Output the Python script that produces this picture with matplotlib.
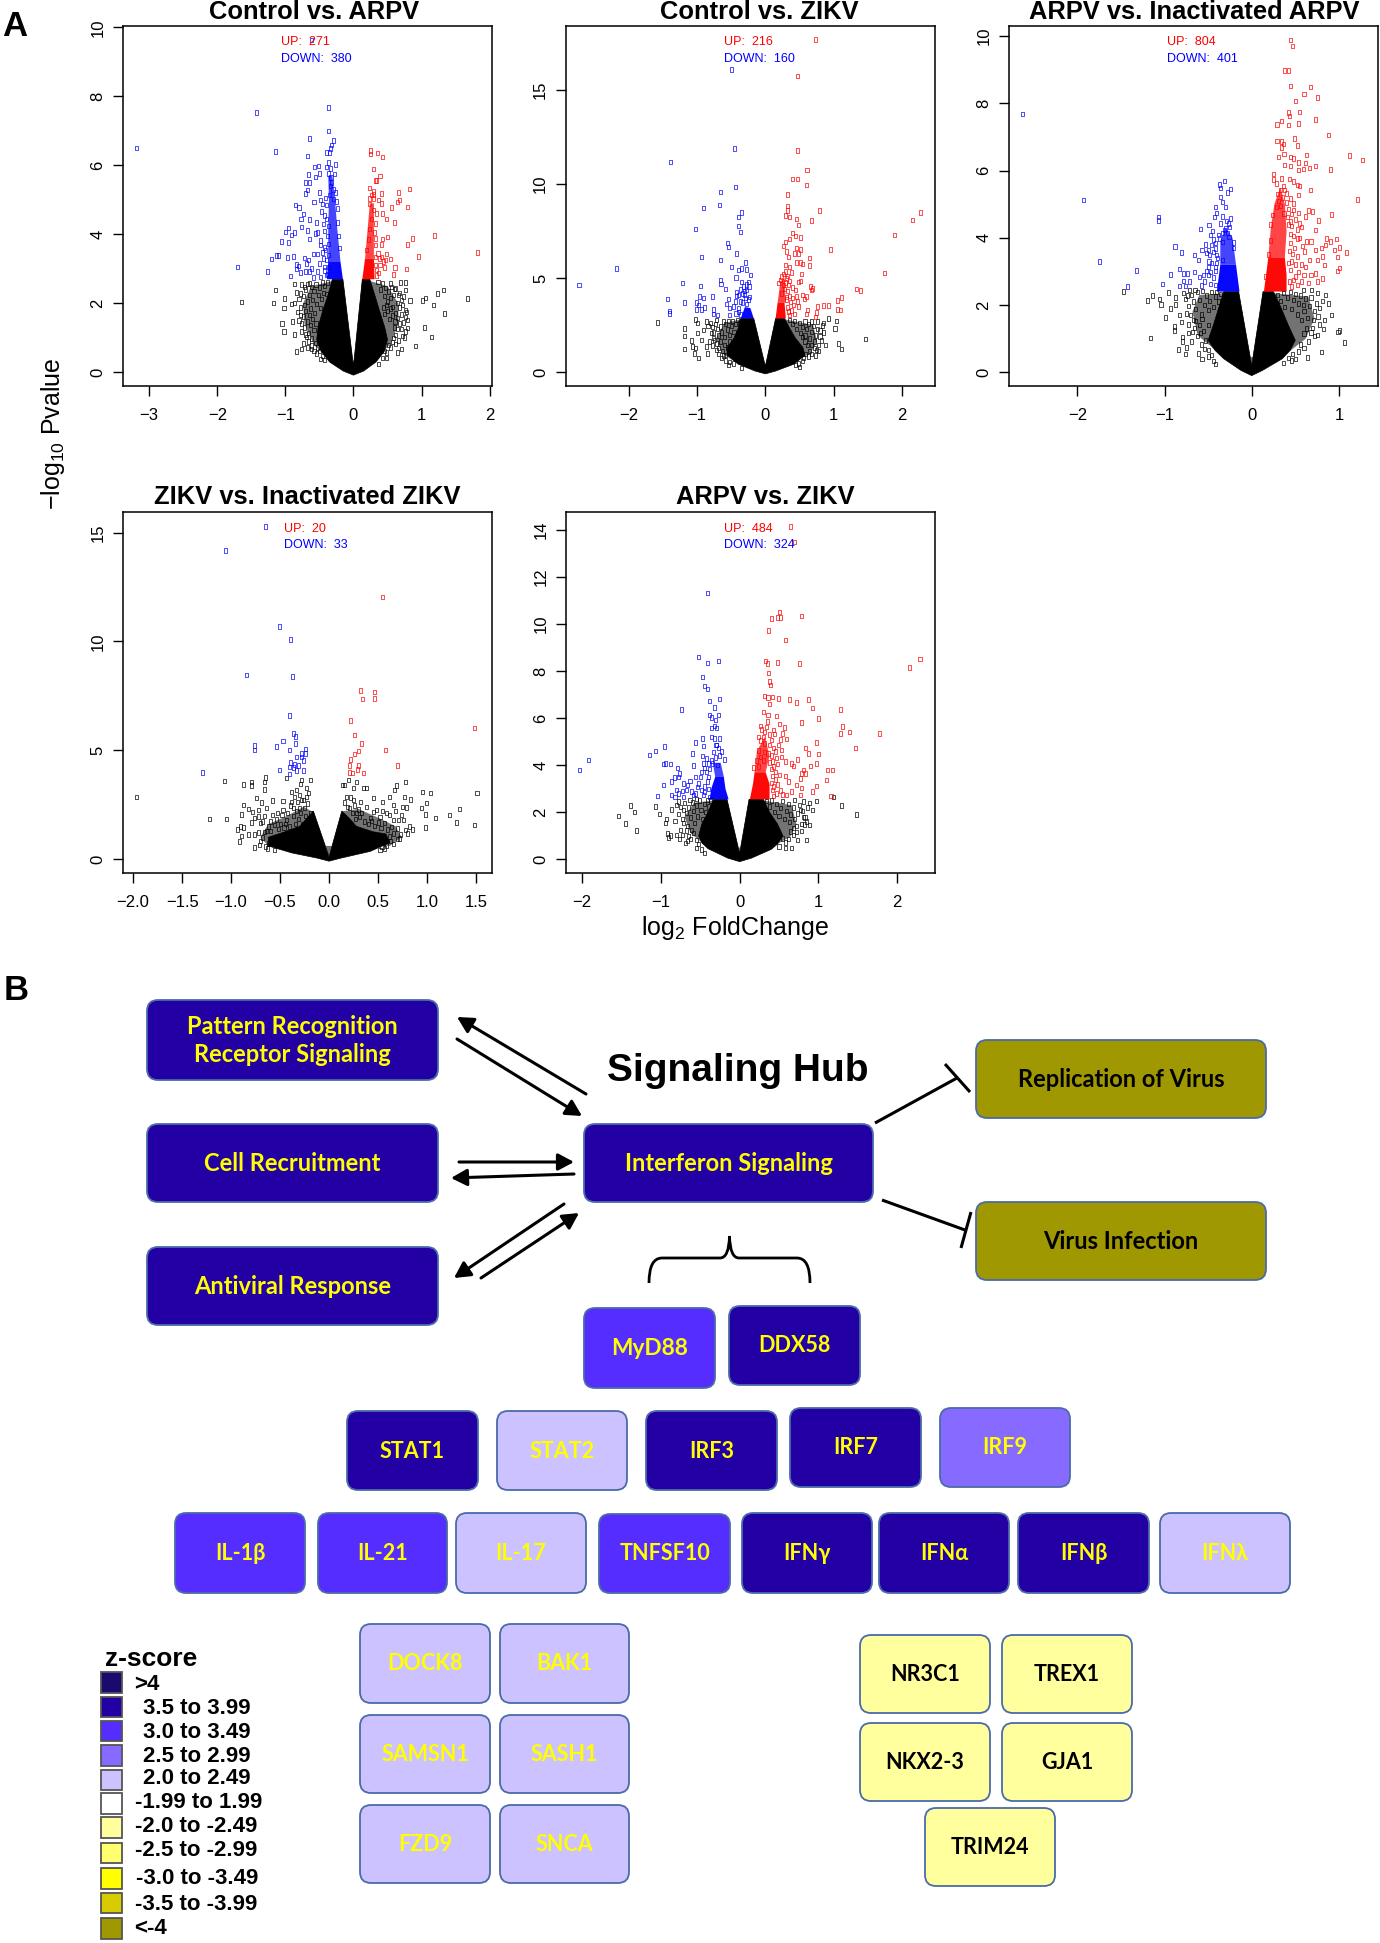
import matplotlib
matplotlib.use("Agg")
import matplotlib.pyplot as plt
from matplotlib.patches import FancyBboxPatch, Polygon, Rectangle, PathPatch, FancyArrowPatch
from matplotlib.path import Path

plt.rcParams['font.family'] = ['Liberation Sans', 'DejaVu Sans']
plt.rcParams['mathtext.fontset'] = 'custom'
plt.rcParams['mathtext.rm'] = 'Liberation Sans'
plt.rcParams['mathtext.default'] = 'regular'

W, H = 1380, 1943

# ---------------- volcano data: (log2 fold change, -log10 p) ----------------
p1_title = "Control vs. ARPV"; p1_up = "UP:  271"; p1_down = "DOWN:  380"
p1_blue = [(-0.62,9.63),(-3.19,6.51),(-1.43,7.53),(-0.37,7.68),(-0.37,6.99),(-0.65,6.78),(-1.15,6.40),(-0.68,6.27),(-0.29,6.72),(-0.32,6.59),(-0.34,6.49),(-0.40,6.37),(-0.35,6.37),(-0.37,6.08),(-0.57,5.96),(-0.51,5.99),(-0.27,6.03),(-0.39,5.96),(-0.34,5.91),(-0.66,5.74),(-0.56,5.67),(-0.50,5.77),(-0.28,5.75),(-0.37,5.77),(-0.71,5.50),(-0.64,5.51),(-0.32,5.50),(-0.34,5.40),(-0.68,5.29),(-0.70,5.19),(-0.50,5.22),(-0.26,5.22),(-0.41,5.05),(-0.48,5.0),(-0.58,4.94),(-0.29,5.02),(-0.85,4.86),(-0.80,4.78),(-0.46,4.88),(-0.73,4.59),(-0.47,4.66),(-0.77,4.44),(-0.64,4.43),(-0.54,4.34),(-0.76,4.22),(-0.96,4.19),(-1.0,4.07),(-0.87,4.06),(-0.91,3.98),(-0.67,4.11),(-0.56,4.03),(-0.53,4.05),(-1.06,3.79),(-0.96,3.77),(-0.65,3.86),(-0.48,3.82),(-0.49,3.69),(-1.20,3.29),(-1.13,3.39),(-1.10,3.39),(-0.97,3.33),(-0.88,3.36),(-0.59,3.44),(-0.53,3.44),(-0.72,3.31),(-0.66,3.26),(-1.70,3.06),(-1.26,2.92),(-0.84,3.13),(-0.81,3.09),(-0.83,3.0),(-0.69,3.16),(-0.78,2.90),(-0.71,2.92),(-0.65,2.92),(-0.62,3.01),(-0.93,2.80),(-0.59,2.75),(-0.53,2.92),(-0.50,3.16),(-0.43,3.06),(-0.48,2.77),
 (-0.38,2.85),(-0.42,2.95),(-0.36,3.05),(-0.40,3.25),(-0.36,3.40),(-0.41,3.55),(-0.37,3.72),(-0.43,3.62),(-0.38,3.95),(-0.42,4.10),(-0.37,4.25),(-0.44,4.30),(-0.39,4.45),(-0.42,4.55),(-0.24,4.75),(-0.25,4.95),(-0.30,5.30),(-0.35,5.15),(-0.23,4.35),(-0.22,3.95),(-0.21,3.60),(-0.39,4.85),(-0.33,5.65),(-0.44,3.30),(-0.46,3.48),(-0.40,2.82)]
p1_red = [(0.25,6.43),(0.25,6.33),(0.35,6.36),(0.42,6.25),(0.29,5.90),(0.39,5.69),(0.32,5.56),(0.34,5.56),(0.24,5.34),(0.30,5.24),(0.30,5.16),(0.41,5.19),(0.66,5.21),(0.82,5.31),(0.68,5.0),(0.65,4.94),(0.80,4.80),(0.56,4.78),(0.37,5.0),(0.24,5.04),(0.29,5.04),(0.41,4.9),(0.43,4.61),(0.34,4.61),(0.49,4.44),(0.60,4.34),(0.29,4.7),(0.23,4.88),(0.32,4.32),(0.50,3.92),(0.42,3.87),(1.19,3.97),(0.87,3.88),(0.79,3.71),(0.41,3.71),(0.33,3.69),(1.82,3.47),(0.96,3.36),(0.49,3.43),(0.55,3.29),(0.33,3.35),(0.38,3.30),(0.44,3.21),(0.61,3.04),(0.78,2.99),(0.45,3.04),(0.59,2.84),(0.34,2.97),(0.34,2.81),(0.32,3.11),(0.39,3.11),
 (0.19,3.55),(0.22,3.85),(0.24,4.15),(0.27,4.45),(0.31,4.05),(0.33,3.88),(0.36,3.45),(0.37,2.88),(0.41,3.35),(0.47,3.26),(0.26,5.15)]
p1_black = [(-1.64,2.04),(-1.15,2.38),(-0.87,2.57),(-1.01,2.14),(-1.18,2.01),(-1.02,1.86),(-1.05,1.42),(-0.90,1.47),(-1.02,1.18),(-0.87,1.10),(-0.83,0.61),(-0.76,0.67),(-0.73,0.84),(-0.68,0.72),(-0.61,0.67),(-0.91,1.98),(-0.86,2.02),(-0.78,2.29),(-0.72,2.48),(-0.64,2.58),(-0.78,1.66),(-0.76,1.42),(-0.76,1.18),(-0.69,1.03),(-0.48,0.39),(1.68,2.14),(1.32,2.39),(1.24,2.29),(1.06,2.16),(1.01,2.08),(1.18,1.95),(1.34,1.71),(1.04,1.30),(1.15,1.03),(0.91,0.76),(0.71,0.68),(0.64,0.58),(0.83,2.08),(0.77,2.60),(0.69,2.60),(0.77,2.39),(0.62,2.43),(0.79,1.52),(0.79,1.28),(0.75,1.01),(0.48,0.41),(0.37,0.24),(0.71,2.10),(0.66,2.24),(0.54,2.58),(0.76,1.81),(0.61,1.47),(0.59,0.99),
 (-0.83,2.32),(-0.80,2.12),(-0.76,2.55),(-0.74,2.22),(-0.72,1.95),(-0.70,2.40),(-0.68,2.05),(-0.67,2.56),(-0.65,2.25),(-0.63,1.85),(-0.62,2.48),(-0.60,2.10),(-0.58,2.36),(-0.57,1.72),(-0.55,2.55),(-0.54,1.98),(-0.52,2.24),(-0.50,2.46),(-0.49,1.86),(-0.47,2.12),(-0.45,2.60),(-0.44,2.30),(-0.42,2.50),(-0.40,2.28),(-0.38,2.60),(-0.82,1.75),(-0.80,1.50),(-0.78,1.88),(-0.74,1.62),(-0.72,1.30),(-0.71,1.78),(-0.68,1.48),(-0.66,1.15),(-0.65,1.66),(-0.63,1.38),(-0.61,0.98),(-0.60,1.55),(-0.58,1.22),(-0.56,0.85),(-0.55,1.42),(-0.53,0.72),(-0.70,1.10),(-0.66,0.90),(-0.62,0.78),(-0.58,0.62),(-0.54,0.55),(-0.50,0.62),(-0.46,0.48),(-0.42,0.36),
 (0.36,2.62),(0.40,2.40),(0.42,2.58),(0.45,2.22),(0.47,2.45),(0.50,2.05),(0.52,2.34),(0.54,2.15),(0.56,2.48),(0.57,1.90),(0.59,2.25),(0.60,2.42),(0.62,1.72),(0.64,2.02),(0.65,1.58),(0.67,1.88),(0.68,2.30),(0.70,1.68),(0.72,1.95),(0.73,1.45),(0.74,2.20),(0.76,1.60),(0.77,1.18),(0.78,1.75),(0.70,1.25),(0.67,1.42),(0.64,1.25),(0.62,1.08),(0.60,1.30),(0.58,1.65),(0.55,1.85),(0.53,1.55),(0.50,1.78),(0.48,1.95),(0.46,1.70),(0.44,1.88),(0.57,0.88),(0.54,0.72),(0.51,0.80),(0.48,0.58),(0.45,0.62),(0.42,0.42),(0.66,0.92),(0.62,0.82),(0.72,1.05)]
p1_core = [(-0.155,2.7),(0,0.18),(0.13,2.7),(0.24,2.7),(0.32,2.2),(0.38,1.8),(0.46,1.3),(0.5,0.95),(0.45,0.6),(0.33,0.3),(0.15,0.04),(0,-0.08),(-0.15,0.04),(-0.35,0.3),(-0.47,0.6),(-0.54,0.95),(-0.52,1.3),(-0.45,1.8),(-0.38,2.2),(-0.31,2.7)]
p1_haze = [(-0.31,2.65),(-0.62,2.5),(-0.74,2.0),(-0.72,1.4),(-0.58,0.8),(-0.35,0.35),(0.33,0.35),(0.55,0.85),(0.66,1.4),(0.66,2.0),(0.5,2.5),(0.24,2.65)]
p1_blue_mass = [(-0.155,2.7),(-0.19,3.2),(-0.37,3.2),(-0.39,2.7)]
p1_blue_top = [(-0.19,3.2),(-0.24,4.2),(-0.27,5.0),(-0.31,5.7),(-0.37,5.7),(-0.36,5.0),(-0.37,4.2),(-0.37,3.2)]
p1_red_mass = [(0.13,2.7),(0.17,3.3),(0.30,3.3),(0.31,2.7)]
p1_red_top = [(0.17,3.3),(0.21,4.2),(0.24,4.9),(0.30,4.9),(0.30,4.2),(0.30,3.3)]

p2_title = "Control vs. ZIKV"; p2_up = "UP:  216"; p2_down = "DOWN:  160"
p2_blue = [(-2.73,4.63),(-2.18,5.51),(-1.39,11.17),(-0.49,16.1),(-0.45,11.88),(-0.44,9.84),(-0.66,9.56),(-0.67,8.88),(-0.91,8.71),(-0.35,8.49),(-0.39,8.24),(-1.03,7.62),(-0.39,7.75),(-0.37,7.43),(-0.56,6.86),(-0.54,6.65),(-0.42,6.31),(-0.94,6.10),(-0.66,5.96),(-0.29,5.83),(-0.49,5.6),(-0.39,5.41),(-0.35,5.51),(-0.27,5.46),(-0.22,5.16),(-0.43,5.02),(-0.66,4.89),(-0.65,4.68),(-1.22,4.72),(-0.95,4.57),(-0.58,4.43),(-1.43,3.87),(-0.97,4.01),(-0.91,3.95),(-0.78,4.01),(-1.18,3.69),(-1.01,3.69),(-0.98,3.56),(-1.01,3.33),(-0.94,3.33),(-0.89,3.44),(-1.41,3.12),(-1.41,3.24),(-0.76,3.33),(-0.76,3.10),(-0.70,3.03),(-0.54,3.87),(-0.57,3.62),(-0.53,3.39),(-0.42,4.27),(-0.40,4.1),(-0.32,4.54),(-0.25,4.8),(-0.35,4.8),(-0.27,4.36),(-0.44,3.74),(-0.37,3.74),(-0.47,3.48),(-0.53,3.03),(-0.40,3.39),(-0.31,4.1),(-0.23,4.0),
 (-0.24,4.55),(-0.28,4.65),(-0.30,4.3),(-0.34,4.18),(-0.36,4.38),(-0.42,4.05),(-0.29,3.95),(-0.25,3.85),(-0.33,3.7),(-0.27,3.62),(-0.39,3.2),(-0.43,3.12),(-0.37,3.05)]
p2_red = [(0.73,17.68),(0.47,15.76),(0.47,11.79),(0.61,10.76),(0.40,10.28),(0.47,10.28),(0.60,9.93),(0.32,9.45),(0.32,8.83),(0.32,8.6),(0.79,8.6),(0.29,8.32),(0.35,8.26),(0.45,8.14),(0.67,8.05),(0.49,7.82),(2.27,8.49),(2.15,8.10),(1.89,7.30),(0.40,7.38),(0.44,7.23),(0.51,7.15),(0.36,7.06),(0.30,6.93),(0.26,6.70),(0.95,6.52),(0.45,6.61),(0.52,6.52),(0.31,6.40),(0.42,6.31),(0.48,6.31),(0.64,6.06),(0.34,6.13),(0.46,5.83),(0.52,5.83),(0.55,5.73),(0.65,5.66),(0.29,5.69),(0.36,5.6),(1.75,5.25),(0.30,5.34),(0.38,5.30),(0.53,5.2),(0.24,5.07),(0.31,4.98),(0.36,4.84),(0.48,4.80),(0.52,4.84),(0.19,4.72),(0.26,4.63),(0.40,4.50),(0.44,4.36),(0.66,4.54),(0.69,4.45),(0.67,4.36),(1.33,4.41),(1.39,4.34),(1.12,3.97),(1.06,3.81),(0.24,4.18),(0.40,3.95),(0.46,4.01),(0.54,4.1),(0.60,4.01),(0.57,3.88),(0.47,3.74),(0.48,3.48),(0.77,3.48),(0.85,3.53),(0.93,3.53),(1.05,3.33),(1.10,3.30),(0.62,3.30),(0.60,3.07),(0.75,3.16),(0.74,2.94),(0.43,3.09),(0.34,3.21),
 (0.27,5.2),(0.33,5.12),(0.22,4.88),(0.30,4.75),(0.34,4.62),(0.28,4.42),(0.32,4.30),(0.35,4.05),(0.31,3.85),(0.37,3.72),(0.33,3.42),(0.38,3.28),(0.41,3.55),(0.36,3.02),(0.31,3.98)]
p2_black = [(-1.58,2.64),(-1.19,2.32),(-1.19,1.90),(-1.19,1.22),(-1.08,1.68),(-1.07,1.35),(-1.02,1.29),(-1.04,0.99),(-0.98,0.73),(-0.86,1.35),(-0.85,0.99),(-0.94,1.70),(-1.0,2.06),(-1.02,2.80),(-0.99,2.59),(-0.86,2.68),(-0.91,2.23),(-0.79,2.06),(-0.71,2.77),(-0.74,1.70),(-0.62,2.68),(-0.72,1.17),(-0.64,0.73),(-0.54,0.37),(-0.35,0.20),(1.47,1.77),(1.07,1.52),(1.12,1.21),(0.88,1.42),(0.93,2.85),(1.04,2.71),(1.02,2.32),(0.85,2.62),(0.85,2.09),(0.76,2.68),(0.68,2.68),(0.58,2.68),(0.80,1.88),(0.75,1.17),(0.56,0.73),(0.50,0.28),
 (-0.84,2.45),(-0.81,2.6),(-0.78,2.38),(-0.76,2.1),(-0.73,2.55),(-0.70,2.28),(-0.68,1.95),(-0.66,2.42),(-0.64,2.1),(-0.60,1.85),(-0.58,2.55),(-0.56,2.25),(-0.54,2.7),(-0.52,1.98),(-0.50,2.44),(-0.48,2.72),(-0.46,2.12),(-0.44,2.55),(-0.41,2.78),(-0.38,2.62),(-0.82,1.62),(-0.78,1.4),(-0.76,1.82),(-0.72,1.52),(-0.69,1.28),(-0.66,1.62),(-0.63,1.12),(-0.60,1.42),(-0.59,0.9),(-0.56,1.3),(-0.52,1.62),(-0.68,0.95),(-0.62,0.88),(-0.58,0.62),(-0.52,0.52),(-0.47,0.45),
 (0.36,2.78),(0.40,2.55),(0.43,2.72),(0.46,2.3),(0.50,2.6),(0.52,2.08),(0.55,2.4),(0.58,1.95),(0.60,2.28),(0.63,2.55),(0.65,1.78),(0.68,2.12),(0.70,2.45),(0.72,1.62),(0.74,1.95),(0.76,2.3),(0.78,1.45),(0.80,2.2),(0.82,1.68),(0.83,2.48),(0.72,1.28),(0.68,1.42),(0.65,1.12),(0.62,1.45),(0.58,1.62),(0.54,1.85),(0.68,0.95),(0.63,0.82),(0.59,0.95),(0.55,0.58),(0.48,0.45),(0.44,0.38),(0.78,1.1),(0.74,0.88)]
p2_core = [(-0.17,2.85),(0,0.3),(0.15,2.85),(0.28,2.85),(0.36,2.3),(0.44,1.8),(0.55,1.3),(0.58,0.9),(0.42,0.42),(0.15,0.05),(0,-0.1),(-0.15,0.05),(-0.4,0.42),(-0.56,0.9),(-0.56,1.3),(-0.46,1.8),(-0.4,2.3),(-0.36,2.85)]
p2_haze = [(-0.36,2.8),(-0.6,2.6),(-0.72,1.8),(-0.64,1.0),(-0.4,0.45),(0.4,0.45),(0.66,1.0),(0.76,1.6),(0.7,2.5),(0.28,2.8)]
p2_blue_mass = [(-0.17,2.85),(-0.22,3.4),(-0.3,3.45),(-0.36,2.85)]
p2_blue_top = []
p2_red_mass = [(0.15,2.85),(0.18,3.7),(0.28,3.7),(0.30,2.85)]
p2_red_top = [(0.18,3.7),(0.22,4.8),(0.28,5.0),(0.30,3.7)]

p3_title = "ARPV vs. Inactivated ARPV"; p3_up = "UP:  804"; p3_down = "DOWN:  401"
p3_blue = [(-2.63,7.68),(-1.93,5.13),(-1.75,3.29),(-1.32,3.03),(-1.42,2.55),(-1.07,4.62),(-1.07,4.52),(-0.31,5.69),(-0.37,5.59),(-0.36,5.49),(-0.24,5.45),(-0.28,5.35),(-0.36,5.22),(-0.33,5.07),(-0.41,4.91),(-0.30,4.91),(-0.40,4.73),(-0.43,4.61),(-0.33,4.63),(-0.24,4.58),(-0.29,4.50),(-0.49,4.38),(-0.59,4.26),(-0.25,4.33),(-0.31,4.23),(-0.45,4.21),(-0.47,4.08),(-0.26,4.03),(-0.34,3.88),(-0.42,3.84),(-0.46,3.79),(-0.21,3.86),(-0.88,3.74),(-0.80,3.56),(-0.57,3.64),(-0.50,3.64),(-0.66,3.48),(-0.52,3.54),(-0.40,3.49),(-0.21,3.69),(-0.49,3.29),(-0.61,3.34),(-0.33,3.34),(-0.83,3.07),(-0.93,2.91),(-0.78,2.94),(-0.74,2.94),(-0.66,2.99),(-0.60,2.84),(-0.50,3.14),(-0.42,3.14),(-0.31,3.14),(-1.02,2.62),(-0.78,2.72),(-0.71,2.70),(-0.83,2.57),(-0.76,2.57),(-0.54,2.70),(-0.42,2.60),(-0.50,2.89),(-0.36,2.79),
 (-0.27,4.42),(-0.30,4.28),(-0.34,4.15),(-0.28,4.15),(-0.37,3.98),(-0.41,3.68),(-0.44,3.58),(-0.39,3.40),(-0.46,3.25),(-0.42,3.02),(-0.47,2.98),(-0.52,3.02),(-0.55,2.90),(-0.44,2.82),(-0.40,3.25),(-0.48,3.48),(-0.53,3.8),(-0.44,3.95),(-0.38,4.08),(-0.36,4.42),(-0.58,2.58),(-0.47,2.62)]
p3_red = [(0.44,9.89),(0.47,9.70),(0.38,8.98),(0.42,8.98),(0.45,8.52),(0.67,8.49),(0.60,8.28),(0.75,8.17),(0.50,8.07),(0.55,7.75),(0.42,7.73),(0.43,7.63),(0.73,7.52),(0.34,7.47),(0.29,7.37),(0.42,7.35),(0.54,7.40),(0.88,7.06),(0.49,6.95),(0.29,6.88),(0.34,6.87),(0.36,6.79),(0.34,6.69),(0.53,6.75),(1.12,6.45),(1.27,6.32),(0.63,6.47),(0.31,6.41),(0.37,6.49),(0.45,6.41),(0.48,6.36),(0.62,6.23),(0.54,6.24),(0.66,6.07),(0.73,6.14),(0.90,6.03),(0.59,6.04),(0.54,6.02),(0.38,6.16),(0.44,6.13),(0.25,5.90),(0.25,5.74),(0.34,5.77),(0.43,5.75),(0.48,5.67),(0.55,5.54),(0.52,5.57),(0.67,5.42),(0.54,5.27),(1.21,5.14),(0.44,5.17),(0.33,5.42),(0.40,5.32),(0.48,5.02),(0.65,4.81),(0.70,4.78),(0.54,4.73),(0.92,4.69),(0.62,4.63),(0.48,4.83),(0.77,4.52),(0.55,4.43),(0.44,4.48),(0.57,4.33),(0.73,4.23),(0.86,3.98),(0.97,3.96),(0.90,3.89),(0.52,3.98),(0.63,3.89),(0.68,3.89),(0.85,3.79),(0.80,3.69),(1.01,3.71),(0.95,3.64),(1.09,3.56),(0.73,3.64),(0.61,3.59),(0.98,3.42),(0.81,3.44),(0.75,3.34),(0.66,3.34),(0.52,3.44),(0.46,3.29),(0.84,3.19),(1.01,3.11),(0.98,3.02),(0.73,2.94),(0.62,3.14),(0.54,2.99),(0.81,2.79),(0.75,2.70),(0.65,2.65),(0.57,2.70),(0.52,2.60),(0.46,2.55),
 (0.28,5.62),(0.30,5.3),(0.36,5.55),(0.38,5.42),(0.31,5.1),(0.35,5.2),(0.40,5.05),(0.28,4.92),(0.24,4.68),(0.42,4.85),(0.46,4.7),(0.22,4.4),(0.42,4.4),(0.46,4.35),(0.50,4.55),(0.44,4.12),(0.48,4.05),(0.22,3.92),(0.45,3.85),(0.49,3.7),(0.43,3.6),(0.47,3.52),(0.19,3.5),(0.42,3.25),(0.50,3.2),(0.45,3.05),(0.50,2.85),(0.43,2.7),(0.48,2.75),(0.16,2.85),(0.33,4.95),(0.37,4.72),(0.41,4.62),(0.52,4.25),(0.55,4.0),(0.58,3.75),(0.57,3.2),(0.60,2.9),(0.68,2.9)]
p3_black = [(-1.47,2.40),(-1.16,1.02),(-1.19,2.14),(-1.14,2.28),(-1.06,2.18),(-1.04,2.02),(-0.95,2.37),(-0.87,2.22),(-0.93,1.90),(-0.87,2.02),(-0.99,1.63),(-0.83,1.70),(-0.81,1.49),(-0.89,1.36),(-0.89,1.24),(-0.79,1.04),(-0.79,0.91),(-0.84,0.68),(-0.76,0.55),(-0.75,0.74),(-0.69,0.91),(-0.61,0.56),(-0.57,0.39),(-0.50,0.47),(-0.44,0.34),(-0.42,0.24),(-0.73,1.16),(-0.78,2.35),(-0.71,2.45),(-0.65,2.45),(-0.75,1.75),(-0.67,1.56),(-0.59,1.16),(1.06,0.89),(1.01,1.24),(0.99,1.19),(0.80,0.60),(0.64,0.44),(0.46,0.35),(0.50,0.39),(0.91,1.70),(0.84,1.55),(0.88,2.05),(0.85,2.30),(0.81,2.12),(0.82,1.29),(0.75,1.11),(0.65,0.91),(0.59,2.0),(0.75,2.35),(0.69,2.45),(0.59,2.45),(0.71,1.56),(0.76,1.66),(0.36,0.27),
 (-0.76,2.18),(-0.74,2.28),(-0.72,1.98),(-0.69,2.3),(-0.67,2.1),(-0.64,1.88),(-0.62,2.38),(-0.60,2.15),(-0.58,1.72),(-0.56,2.42),(-0.54,2.0),(-0.52,2.28),(-0.50,1.85),(-0.48,2.12),(-0.46,2.38),(-0.44,1.95),(-0.42,2.25),(-0.40,2.38),(-0.38,2.1),(-0.36,2.32),(-0.73,1.42),(-0.70,1.7),(-0.66,1.32),(-0.64,1.52),(-0.62,1.08),(-0.60,1.4),(-0.57,1.58),(-0.55,1.22),(-0.53,0.95),(-0.50,1.4),(-0.68,1.2),(-0.58,0.82),(-0.54,0.7),(-0.50,0.66),(-0.46,0.52),
 (0.30,2.3),(0.33,2.12),(0.36,2.35),(0.38,1.95),(0.41,2.22),(0.44,2.38),(0.46,1.88),(0.48,2.15),(0.50,2.32),(0.52,1.72),(0.54,2.05),(0.56,2.28),(0.57,1.55),(0.60,1.82),(0.62,2.2),(0.64,1.62),(0.66,1.98),(0.68,2.22),(0.70,1.32),(0.72,1.82),(0.74,2.05),(0.78,1.42),(0.78,1.92),(0.72,1.08),(0.68,1.18),(0.63,1.3),(0.60,1.15),(0.56,0.82),(0.60,0.72),(0.54,0.62),(0.47,0.55),(0.42,0.42)]
p3_core = [(-0.15,2.4),(0,0.2),(0.13,2.4),(0.25,2.4),(0.34,1.9),(0.42,1.4),(0.5,0.95),(0.44,0.65),(0.35,0.4),(0.12,0.05),(0,-0.1),(-0.12,0.05),(-0.32,0.4),(-0.42,0.65),(-0.5,0.95),(-0.44,1.4),(-0.38,1.9),(-0.32,2.4)]
p3_haze = [(-0.32,2.35),(-0.6,2.3),(-0.68,1.8),(-0.62,1.1),(-0.32,0.45),(0.35,0.45),(0.62,1.0),(0.72,1.6),(0.65,2.25),(0.25,2.35)]
p3_blue_mass = [(-0.14,2.4),(-0.18,3.2),(-0.36,3.2),(-0.40,2.4)]
p3_blue_top = [(-0.18,3.2),(-0.22,4.0),(-0.30,4.3),(-0.36,3.9),(-0.36,3.2)]
p3_red_mass = [(0.14,2.4),(0.17,3.0),(0.19,3.4),(0.38,3.4),(0.40,2.9),(0.40,2.4)]
p3_red_top = [(0.19,3.4),(0.22,4.3),(0.26,5.0),(0.33,5.5),(0.38,5.0),(0.40,4.2),(0.38,3.4)]

p4_title = "ZIKV vs. Inactivated ZIKV"; p4_up = "UP:  20"; p4_down = "DOWN:  33"
p4_blue = [(-0.65,15.27),(-1.06,14.17),(-0.51,10.69),(-0.39,10.08),(-0.84,8.45),(-0.37,8.38),(-0.40,6.60),(-0.36,5.77),(-0.34,5.62),(-0.47,5.41),(-0.34,5.31),(-0.76,5.22),(-0.76,5.02),(-0.54,5.16),(-0.40,5.01),(-0.24,5.04),(-0.24,4.85),(-0.28,4.85),(-0.33,4.70),(-0.28,4.70),(-0.26,4.52),(-0.39,4.44),(-0.35,4.35),(-0.31,4.29),(-0.40,4.24),(-0.36,4.21),(-0.51,4.09),(-0.33,4.07),(-0.26,4.07),(-0.40,3.91),(-1.29,3.98)]
p4_red = [(0.55,12.05),(0.32,7.75),(0.46,7.67),(0.34,7.35),(0.46,7.38),(0.22,6.36),(1.48,6.02),(0.26,5.70),(0.33,5.31),(0.30,4.96),(0.58,5.01),(0.26,4.82),(0.22,4.58),(0.21,4.30),(0.30,4.30),(0.70,4.30),(0.29,4.12),(0.21,3.97),(0.24,3.94),(0.35,3.94)]
p4_black = [(-1.97,2.85),(-1.22,1.84),(-1.05,1.84),(-1.07,3.57),(-0.87,3.43),(-0.79,3.54),(-0.79,3.37),(-0.65,3.74),(-0.66,3.55),(-0.66,3.20),(-0.74,2.80),(-0.87,2.48),(-0.89,2.05),(-0.82,2.30),(-0.78,2.16),(-0.76,1.87),(-0.79,1.67),(-0.93,1.36),(-0.90,1.49),(-0.87,1.44),(-0.89,1.07),(-0.91,0.80),(-0.82,1.13),(-0.76,1.13),(-0.76,0.52),(-0.71,0.64),(-0.63,0.49),(-0.56,0.40),(-0.69,2.59),(-0.58,2.68),(-0.47,2.66),(-0.72,2.25),(-0.64,2.33),(-0.53,2.10),(-0.70,1.64),(-0.62,1.49),(-0.43,3.71),(-0.28,3.63),(-0.29,3.45),(-0.19,3.63),(-0.38,3.09),(-0.33,3.17),(-0.23,3.25),(-0.38,2.63),(-0.30,2.94),(-0.36,2.33),(-0.26,2.71),(-0.21,3.02),(-0.30,2.33),(-0.47,2.25),(-0.43,1.79),(-0.19,2.10),(1.51,3.03),(0.95,3.08),(1.04,3.02),(1.33,2.31),(0.99,2.56),(0.94,2.34),(0.98,2.05),(1.09,1.88),(1.23,2.01),(1.30,1.67),(1.48,1.56),(0.98,1.45),(0.78,3.55),(0.69,3.37),(0.67,3.17),(0.77,2.86),(0.83,2.74),(0.79,2.36),(0.74,2.02),(0.82,1.49),(0.78,1.33),(0.72,0.95),(0.62,1.03),(0.57,0.49),(0.52,0.41),(0.45,2.79),(0.55,2.63),(0.62,2.86),(0.66,2.48),(0.59,2.10),(0.66,1.79),(0.71,1.79),(0.52,1.94),(0.35,3.25),(0.38,3.25),(0.28,3.55),(0.20,3.63),(0.16,3.40),(0.14,3.4),(0.25,3.25),(0.18,2.86),(0.25,2.71),(0.32,2.63),(0.21,2.33),(0.28,2.10),(0.42,1.87),(0.45,2.17),
 (-0.72,1.95),(-0.68,1.72),(-0.66,1.98),(-0.64,1.3),(-0.60,1.72),(-0.58,2.02),(-0.56,1.55),(-0.54,1.82),(-0.52,1.38),(-0.50,1.62),(-0.48,2.02),(-0.46,1.45),(-0.44,1.62),(-0.42,2.12),(-0.40,1.5),(-0.39,2.45),(-0.36,1.98),(-0.35,2.85),(-0.34,1.62),(-0.33,2.2),(-0.32,2.62),(-0.31,1.85),(-0.29,2.12),(-0.28,2.72),(-0.27,1.62),(-0.25,2.35),(-0.24,1.98),(-0.23,2.85),(-0.22,2.55),(-0.21,1.85),(-0.72,1.22),(-0.68,0.98),(-0.66,1.25),(-0.70,0.82),(-0.62,0.72),(-0.60,1.28),(-0.65,0.58),
 (0.16,2.6),(0.19,2.4),(0.22,2.82),(0.24,2.1),(0.26,2.45),(0.27,1.85),(0.30,2.28),(0.31,1.92),(0.33,2.12),(0.36,1.72),(0.38,2.4),(0.40,1.62),(0.43,1.75),(0.46,1.52),(0.48,2.25),(0.50,1.68),(0.53,1.42),(0.55,2.2),(0.57,1.65),(0.60,1.35),(0.62,2.02),(0.64,1.48),(0.66,1.18),(0.68,2.2),(0.70,1.4),(0.73,1.12),(0.75,2.38),(0.76,1.78),(0.80,1.18),(0.63,0.82),(0.66,0.68),(0.59,0.62),(0.54,0.55),(0.70,0.92),(0.85,1.35)]
p4_core = [(-0.16,2.2),(0,0.1),(0.13,2.2),(0.2,1.9),(0.28,1.5),(0.45,1.25),(0.58,1.15),(0.62,0.75),(0.42,0.35),(0.12,0.04),(0,-0.1),(-0.12,0.04),(-0.38,0.28),(-0.62,0.6),(-0.62,1.0),(-0.45,1.25),(-0.3,1.5),(-0.22,1.9)]
p4_haze = [(-0.18,2.2),(-0.26,2.4),(-0.42,2.0),(-0.62,1.6),(-0.7,1.0),(-0.62,0.6),(0.62,0.6),(0.74,1.0),(0.68,1.5),(0.5,1.9),(0.3,2.3),(0.15,2.2)]
p4_blue_mass = []; p4_blue_top = []
p4_red_mass = []; p4_red_top = []

p5_title = "ARPV vs. ZIKV"; p5_up = "UP:  484"; p5_down = "DOWN:  324"
p5_blue = [(-2.03,3.80),(-1.92,4.21),(-1.14,4.43),(-1.07,4.60),(-0.95,4.80),(-0.97,4.04),(-0.94,4.07),(-0.88,4.04),(-0.74,6.37),(-0.41,11.33),(-0.52,8.60),(-0.41,8.34),(-0.27,8.44),(-0.47,7.76),(-0.44,7.37),(-0.41,7.25),(-0.38,6.74),(-0.25,6.81),(-0.32,6.46),(-0.38,6.13),(-0.27,6.13),(-0.36,6.03),(-0.31,5.92),(-0.36,5.57),(-0.29,5.57),(-0.32,5.67),(-0.36,5.21),(-0.47,5.13),(-0.56,4.97),(-0.46,4.82),(-0.32,5.14),(-0.26,5.14),(-0.29,4.86),(-0.60,4.50),(-0.47,4.39),(-0.23,4.58),(-0.19,4.25),(-0.59,3.98),(-0.79,3.87),(-0.76,3.65),(-0.83,3.48),(-0.78,3.51),(-0.97,3.16),(-0.86,3.30),(-0.71,3.23),(-0.63,3.34),(-0.56,3.51),(-0.48,3.72),(-0.46,4.08),(-0.40,4.08),(-0.34,4.08),(-0.42,3.72),(-1.04,2.68),(-0.86,2.73),(-0.82,2.66),(-0.80,2.95),(-0.67,2.95),(-0.71,2.66),(-0.61,2.88),(-0.52,3.23),(-0.48,2.95),(-0.59,2.73),(-0.39,3.51),(-0.38,2.66),(-0.46,2.73),
 (-0.30,4.85),(-0.27,4.72),(-0.33,4.55),(-0.25,4.42),(-0.31,4.32),(-0.42,4.28),(-0.36,4.2),(-0.28,4.02),(-0.44,3.88),(-0.38,3.85),(-0.41,3.3),(-0.44,3.1),(-0.50,3.5),(-0.54,3.08),(-0.44,2.85),(-0.56,2.8),(-0.66,3.15),(-0.73,2.9),(-0.78,2.8),(-0.40,3.0)]
p5_red = [(0.65,14.14),(0.70,13.48),(0.51,10.52),(0.41,10.24),(0.48,10.27),(0.52,10.27),(0.78,10.35),(0.37,9.72),(0.58,9.31),(0.33,8.44),(0.35,8.33),(0.48,8.37),(0.76,8.33),(2.29,8.51),(2.16,8.16),(0.37,7.93),(0.38,7.55),(0.39,7.41),(0.31,6.95),(0.36,6.88),(0.42,6.91),(0.49,6.84),(0.63,6.80),(0.72,6.67),(0.87,6.80),(0.93,6.44),(1.28,6.37),(0.38,6.60),(0.30,6.27),(0.36,6.13),(0.47,6.09),(1.0,5.98),(0.79,5.82),(0.35,5.85),(0.26,5.67),(0.51,5.74),(0.57,5.61),(0.43,5.50),(1.31,5.65),(1.40,5.42),(1.28,5.34),(1.77,5.34),(0.55,5.35),(0.60,5.11),(0.52,5.10),(0.32,5.42),(0.24,5.21),(0.30,5.21),(0.41,5.07),(0.98,4.96),(1.47,4.73),(0.84,4.72),(0.87,4.50),(1.0,4.48),(0.46,4.58),(0.53,4.65),(0.36,4.50),(0.53,4.36),(0.26,4.36),(0.74,4.25),(0.58,4.15),(0.98,4.08),(0.90,3.97),(0.66,4.08),(0.68,3.97),(0.43,3.94),(0.81,3.80),(1.12,3.80),(1.18,3.80),(0.79,3.65),(0.84,3.65),(0.51,3.58),(0.58,3.54),(1.10,3.37),(0.77,3.44),(0.62,3.30),(0.72,3.16),(0.97,3.12),(0.93,2.88),(0.79,3.02),(0.43,3.09),(0.47,2.80),(0.66,2.88),(0.60,2.73),(0.77,2.73),(1.16,2.69),
 (0.28,5.52),(0.34,5.62),(0.38,5.3),(0.44,5.32),(0.27,5.05),(0.32,4.92),(0.38,4.85),(0.43,4.72),(0.49,4.85),(0.24,4.62),(0.31,4.55),(0.40,4.42),(0.47,4.3),(0.22,4.2),(0.30,4.2),(0.38,4.12),(0.42,4.15),(0.48,4.05),(0.40,3.85),(0.46,3.72),(0.42,3.55),(0.45,3.4),(0.41,3.25),(0.48,3.18),(0.42,2.95),(0.52,2.92),(0.55,2.75),(0.43,2.7),(0.18,3.9),(0.24,3.95)]
p5_black = [(-1.54,1.84),(-1.39,2.28),(-1.34,2.01),(-1.45,1.52),(-1.31,1.22),(-1.07,2.24),(-1.02,1.93),(-0.93,1.70),(-0.94,1.53),(-0.92,1.10),(-0.88,1.01),(-0.90,0.93),(-0.80,1.03),(-0.76,0.85),(-0.69,0.68),(-0.55,0.47),(-0.48,0.42),(-0.45,0.28),(-0.87,2.12),(-0.82,1.64),(-0.77,2.45),(-0.71,2.10),(-0.63,2.52),(-0.55,2.55),(-0.71,1.53),(-0.61,1.25),(1.48,1.91),(1.29,2.29),(1.19,2.65),(0.98,2.49),(0.93,2.10),(0.89,2.38),(0.89,1.46),(0.85,1.60),(0.85,0.81),(0.73,0.81),(0.66,0.47),(0.58,0.48),(0.81,2.45),(0.70,2.52),(0.77,2.10),(0.81,1.81),(0.68,1.32),
 (-0.80,2.32),(-0.78,1.92),(-0.75,2.22),(-0.73,1.72),(-0.70,2.38),(-0.68,1.98),(-0.66,1.42),(-0.65,2.2),(-0.62,1.78),(-0.60,2.42),(-0.58,2.05),(-0.57,1.55),(-0.55,2.28),(-0.53,1.82),(-0.51,2.5),(-0.49,2.1),(-0.47,1.7),(-0.45,2.35),(-0.43,2.02),(-0.41,2.52),(-0.39,2.25),(-0.37,2.5),(-0.75,1.25),(-0.72,1.02),(-0.68,1.22),(-0.65,1.0),(-0.62,0.85),(-0.58,1.12),(-0.55,0.82),(-0.52,0.65),(-0.66,0.78),
 (0.34,2.48),(0.38,2.25),(0.41,2.5),(0.44,2.02),(0.47,2.35),(0.50,1.85),(0.52,2.18),(0.55,2.48),(0.57,1.72),(0.59,2.05),(0.62,2.35),(0.63,1.58),(0.65,1.9),(0.68,2.2),(0.70,1.7),(0.72,1.42),(0.74,1.95),(0.76,2.32),(0.78,1.5),(0.80,2.05),(0.83,1.78),(0.86,2.2),(0.72,1.15),(0.68,1.02),(0.64,1.18),(0.62,0.85),(0.58,0.72),(0.55,0.88),(0.50,0.55),(0.78,1.2),(0.82,1.48)]
p5_core = [(-0.16,2.55),(0,0.25),(0.12,2.55),(0.3,2.55),(0.38,2.0),(0.48,1.5),(0.55,1.0),(0.48,0.65),(0.4,0.42),(0.15,0.05),(0,-0.1),(-0.15,0.05),(-0.4,0.45),(-0.48,0.7),(-0.52,1.0),(-0.48,1.5),(-0.4,2.0),(-0.33,2.55)]
p5_haze = [(-0.33,2.5),(-0.58,2.4),(-0.7,1.8),(-0.62,1.1),(-0.4,0.5),(0.4,0.5),(0.64,0.95),(0.72,1.5),(0.66,2.3),(0.3,2.5)]
p5_blue_mass = [(-0.14,2.55),(-0.18,3.0),(-0.20,3.5),(-0.31,3.5),(-0.36,3.0),(-0.38,2.55)]
p5_blue_top = [(-0.20,3.5),(-0.24,4.1),(-0.34,4.1),(-0.31,3.5)]
p5_red_mass = [(0.13,2.55),(0.17,3.2),(0.19,3.7),(0.33,3.7),(0.38,3.2),(0.38,2.55)]
p5_red_top = [(0.19,3.7),(0.22,4.6),(0.32,5.2),(0.38,4.4),(0.33,3.7)]

p1_xticks = [-3,-2,-1,0,1,2]; p1_yticks = [0,2,4,6,8,10]; p1_xlabels = ['−3','−2','−1','0','1','2']
p2_xticks = [-2,-1,0,1,2];    p2_yticks = [0,5,10,15];    p2_xlabels = ['−2','−1','0','1','2']
p3_xticks = [-2,-1,0,1];      p3_yticks = [0,2,4,6,8,10]; p3_xlabels = ['−2','−1','0','1']
p4_xticks = [-2,-1.5,-1,-.5,0,.5,1,1.5]; p4_yticks = [0,5,10,15]
p4_xlabels = ['−2.0','−1.5','−1.0','−0.5','0.0','0.5','1.0','1.5']
p5_xticks = [-2,-1,0,1,2];    p5_yticks = [0,2,4,6,8,10,12,14]; p5_xlabels = ['−2','−1','0','1','2']

# ---------------- network / legend content ----------------
DARK = "#2200A3"; MID = "#552DFF"; SOFT = "#876AFF"; PALE = "#CCC2FF"
YEL = "#FFFF9E"; OLIVE = "#A09800"
legend_labels = [">4", "3.5 to 3.99", "3.0 to 3.49", "2.5 to 2.99", "2.0 to 2.49", "-1.99 to 1.99",
                 "-2.0 to -2.49", "-2.5 to -2.99", "-3.0 to -3.49", "-3.5 to -3.99", "<-4"]
legend_colors = ["#1A0A6E", DARK, MID, SOFT, PALE, "#FFFFFF", YEL, "#FFFF70", "#FFFF00", "#D6CC00", OLIVE]

fig = plt.figure(figsize=(W/100, H/100), dpi=100, facecolor='white')

mk = [(-.7,-1),(.7,-1),(.7,1),(-.7,1),(-.7,-1)]

def volcano(left, right, top, bottom, xlim, ylim, xt, xl, yt, core, haze, bmass, btop, rmass, rtop, black, blue, red):
    ax = fig.add_axes([left/W, 1-bottom/H, (right-left)/W, (bottom-top)/H])
    # the haze keeps the central V of the volcano empty: it closes through the core's inner notch
    ax.add_patch(Polygon(list(haze) + [core[2], core[1], core[0]], closed=True, fc='#000000', ec='none', alpha=.55, zorder=1))
    ax.add_patch(Polygon(core, closed=True, fc='#000000', ec='#000000', lw=.5, zorder=2))
    for poly, c, a in ((btop,'#1010FF',.78),(rtop,'#FF1010',.78),(bmass,'#0808FF',1),(rmass,'#FF0808',1)):
        if poly:
            ax.add_patch(Polygon(poly, closed=True, fc=c, ec='none', alpha=a, zorder=2))
    for pts, c in ((black, '#000000'), (blue, '#0000FF'), (red, '#FF0000')):
        ax.scatter([p[0] for p in pts], [p[1] for p in pts], marker=mk, s=10, facecolors='none',
                   edgecolors=c, linewidths=.7, alpha=.7, zorder=3, clip_on=True)
    ax.set_xlim(*xlim); ax.set_ylim(*ylim)
    ax.set_xticks(xt); ax.set_xticklabels(xl, fontsize=12)
    ax.set_yticks(yt); ax.set_yticklabels([str(v) for v in yt], fontsize=12, rotation=90, va='center')
    ax.tick_params(axis='x', length=7.4, width=1, pad=8.5)
    ax.tick_params(axis='y', length=7.4, width=1, pad=5.5)
    for s in ax.spines.values():
        s.set_linewidth(1.1)
    return ax

volcano(123.3,491.7,25.7,385.7,(-3.38,2.03),(-0.386,10.05),p1_xticks,p1_xlabels,p1_yticks,p1_core,p1_haze,p1_blue_mass,p1_blue_top,p1_red_mass,p1_red_top,p1_black,p1_blue,p1_red)
volcano(566,934.7,25.7,385.7,(-2.92,2.48),(-0.73,18.42),p2_xticks,p2_xlabels,p2_yticks,p2_core,p2_haze,p2_blue_mass,p2_blue_top,p2_red_mass,p2_red_top,p2_black,p2_blue,p2_red)
volcano(1009.3,1377.7,25.7,385.7,(-2.78,1.445),(-0.40,10.31),p3_xticks,p3_xlabels,p3_yticks,p3_core,p3_haze,p3_blue_mass,p3_blue_top,p3_red_mass,p3_red_top,p3_black,p3_blue,p3_red)
volcano(123.3,491.7,512.3,872.7,(-2.10,1.66),(-0.63,15.93),p4_xticks,p4_xlabels,p4_yticks,p4_core,p4_haze,p4_blue_mass,p4_blue_top,p4_red_mass,p4_red_top,p4_black,p4_blue,p4_red)
volcano(566.3,935,512.3,872.7,(-2.20,2.48),(-0.57,14.75),p5_xticks,p5_xlabels,p5_yticks,p5_core,p5_haze,p5_blue_mass,p5_blue_top,p5_red_mass,p5_red_top,p5_black,p5_blue,p5_red)

# overlay in pixel coordinates
ov = fig.add_axes([0, 0, 1, 1], facecolor='none')
ov.set_xlim(0, W); ov.set_ylim(H, 0); ov.axis('off')

for title, x, y in ((p1_title,314,12),(p2_title,759,12),(p3_title,1194,12),(p4_title,307.5,497),(p5_title,765,497)):
    ov.text(x, y, title, ha='center', va='center', fontsize=18.4, fontweight='bold')
for up, down, x, y1, y2 in ((p1_up,p1_down,281,42,59),(p2_up,p2_down,723.7,42,59),(p3_up,p3_down,1166.7,42,59),
                            (p4_up,p4_down,284.3,529,545),(p5_up,p5_down,723.7,529,545)):
    ov.text(x, y1, up, color='#FF0000', fontsize=9, ha='left', va='center')
    ov.text(x, y2, down, color='#0000FF', fontsize=9, ha='left', va='center')

ov.text(53, 434, "−log$_{10}$ Pvalue", rotation=90, ha='center', va='center', fontsize=18)
ov.text(735, 928, "log$_{2}$ FoldChange", ha='center', va='center', fontsize=18)
ov.text(15, 26, "A", fontsize=25, fontweight='bold', ha='center', va='center')
ov.text(16, 990, "B", fontsize=25, fontweight='bold', ha='center', va='center')

def box(x0, x1, y0, y1, fc, txt, tc='#FFFF00', fs=15.5):
    ov.add_patch(FancyBboxPatch((x0+11, y0+12), x1-x0-22, y1-y0-22, boxstyle="round,pad=11,rounding_size=11",
                                fc=fc, ec='#4A6BA8', lw=1.3, zorder=4))
    ov.text((x0+x1)/2, (y0+y1)/2+1.5, txt, color=tc, ha='center', va='center', fontsize=fs,
            fontweight='bold', family=['Lato', 'DejaVu Sans'], zorder=5, linespacing=1.3)

box(147,438,999,1079,DARK,"Pattern Recognition\nReceptor Signaling",fs=17)
box(147,438,1123,1201,DARK,"Cell Recruitment",fs=17)
box(147,438,1246,1324,DARK,"Antiviral Response",fs=17)
box(584,873,1123,1201,DARK,"Interferon Signaling",fs=17)
box(976,1266,1039,1117,OLIVE,"Replication of Virus",'black',fs=17)
box(976,1266,1201,1279,OLIVE,"Virus Infection",'black',fs=17)
box(584,715,1307,1387,MID,"MyD88",fs=16.3)
box(729,860,1305,1384,DARK,"DDX58")
for n, c, x0, x1, y0, y1 in (("STAT1",DARK,347,478,1410,1489),("STAT2",PALE,497,627,1410,1489),("IRF3",DARK,646,777,1410,1489),
                             ("IRF7",DARK,790,921,1407,1486),("IRF9",SOFT,940,1070,1407,1486),
                             ("IL-1β",MID,175,305,1512,1592),("IL-21",MID,318,447,1512,1592),("IL-17",PALE,456,586,1512,1592),
                             ("TNFSF10",MID,599,730,1513,1592),("IFNγ",DARK,742,872,1512,1592),("IFNα",DARK,879,1009,1512,1592),
                             ("IFNβ",DARK,1018,1149,1512,1592),("IFNλ",PALE,1160,1290,1512,1592),
                             ("DOCK8",PALE,360,490,1623,1702),("BAK1",PALE,500,629,1623,1702),
                             ("SAMSN1",PALE,360,490,1714,1792),("SASH1",PALE,500,629,1714,1792),
                             ("FZD9",PALE,360,490,1804,1882),("SNCA",PALE,500,629,1804,1882),
                             ("NR3C1",YEL,860,990,1634,1712),("TREX1",YEL,1002,1132,1634,1712),
                             ("NKX2-3",YEL,860,990,1722,1800),("GJA1",YEL,1002,1132,1722,1800),
                             ("TRIM24",YEL,925,1055,1807,1885)):
    box(x0, x1, y0, y1, c, n, 'black' if c == YEL else '#FFFF00')

ov.text(738, 1071, "Signaling Hub", fontsize=28, fontweight='bold', ha='center', va='center')

for a, b in (((586,1094),(457,1017)),((457,1039),(582,1116)),((459,1162),(574,1162)),((574,1174),(451,1178)),
             ((564,1204),(454,1278)),((481,1278),(579,1213))):
    ov.add_patch(FancyArrowPatch(a, b, arrowstyle='-|>,head_length=6,head_width=3.2', lw=2.2, color='black',
                                 shrinkA=0, shrinkB=0, mutation_scale=1.6, zorder=3))
for a, b in (((875,1123),(957,1078)),((945,1064),(970,1092)),((882,1200),(965,1230)),((971,1212),(961,1248))):
    ov.plot([a[0],b[0]],[a[1],b[1]], color='black', lw=2.2, solid_capstyle='butt')

brace = Path([(649,1283),(649,1258),(662,1258),(720,1258),(729,1258),(729.5,1236),(730,1258),(739,1258),(797,1258),(810,1258),(810,1283)],
             [Path.MOVETO,Path.CURVE3,Path.CURVE3,Path.LINETO,Path.CURVE3,Path.CURVE3,Path.CURVE3,Path.CURVE3,Path.LINETO,Path.CURVE3,Path.CURVE3])
ov.add_patch(PathPatch(brace, fc='none', ec='black', lw=2))

# legend
ov.text(151, 1659, "z-score", fontsize=19, fontweight='bold', ha='center', va='center')
leg_y0 = [1672,1697,1721,1745,1770,1793,1817,1843,1868,1893,1918]
leg_y1 = [1693,1717,1741,1766,1790,1814,1838,1863,1889,1913,1939]
leg_tx = [134,143,143,143,143,135,135,135,136,135,134]
leg_ty = [1684,1708,1732,1756,1779,1803,1827,1851,1878,1904,1928]
for lab, col, y0, y1, tx, ty in zip(legend_labels, legend_colors, leg_y0, leg_y1, leg_tx, leg_ty):
    ov.add_patch(Rectangle((101, y0), 21, y1-y0, fc=col, ec='#555555', lw=1.3))
    ov.text(tx, ty, lab, fontsize=16, fontweight='bold', ha='left', va='center')

fig.savefig('out.png', dpi=100, facecolor='white')
